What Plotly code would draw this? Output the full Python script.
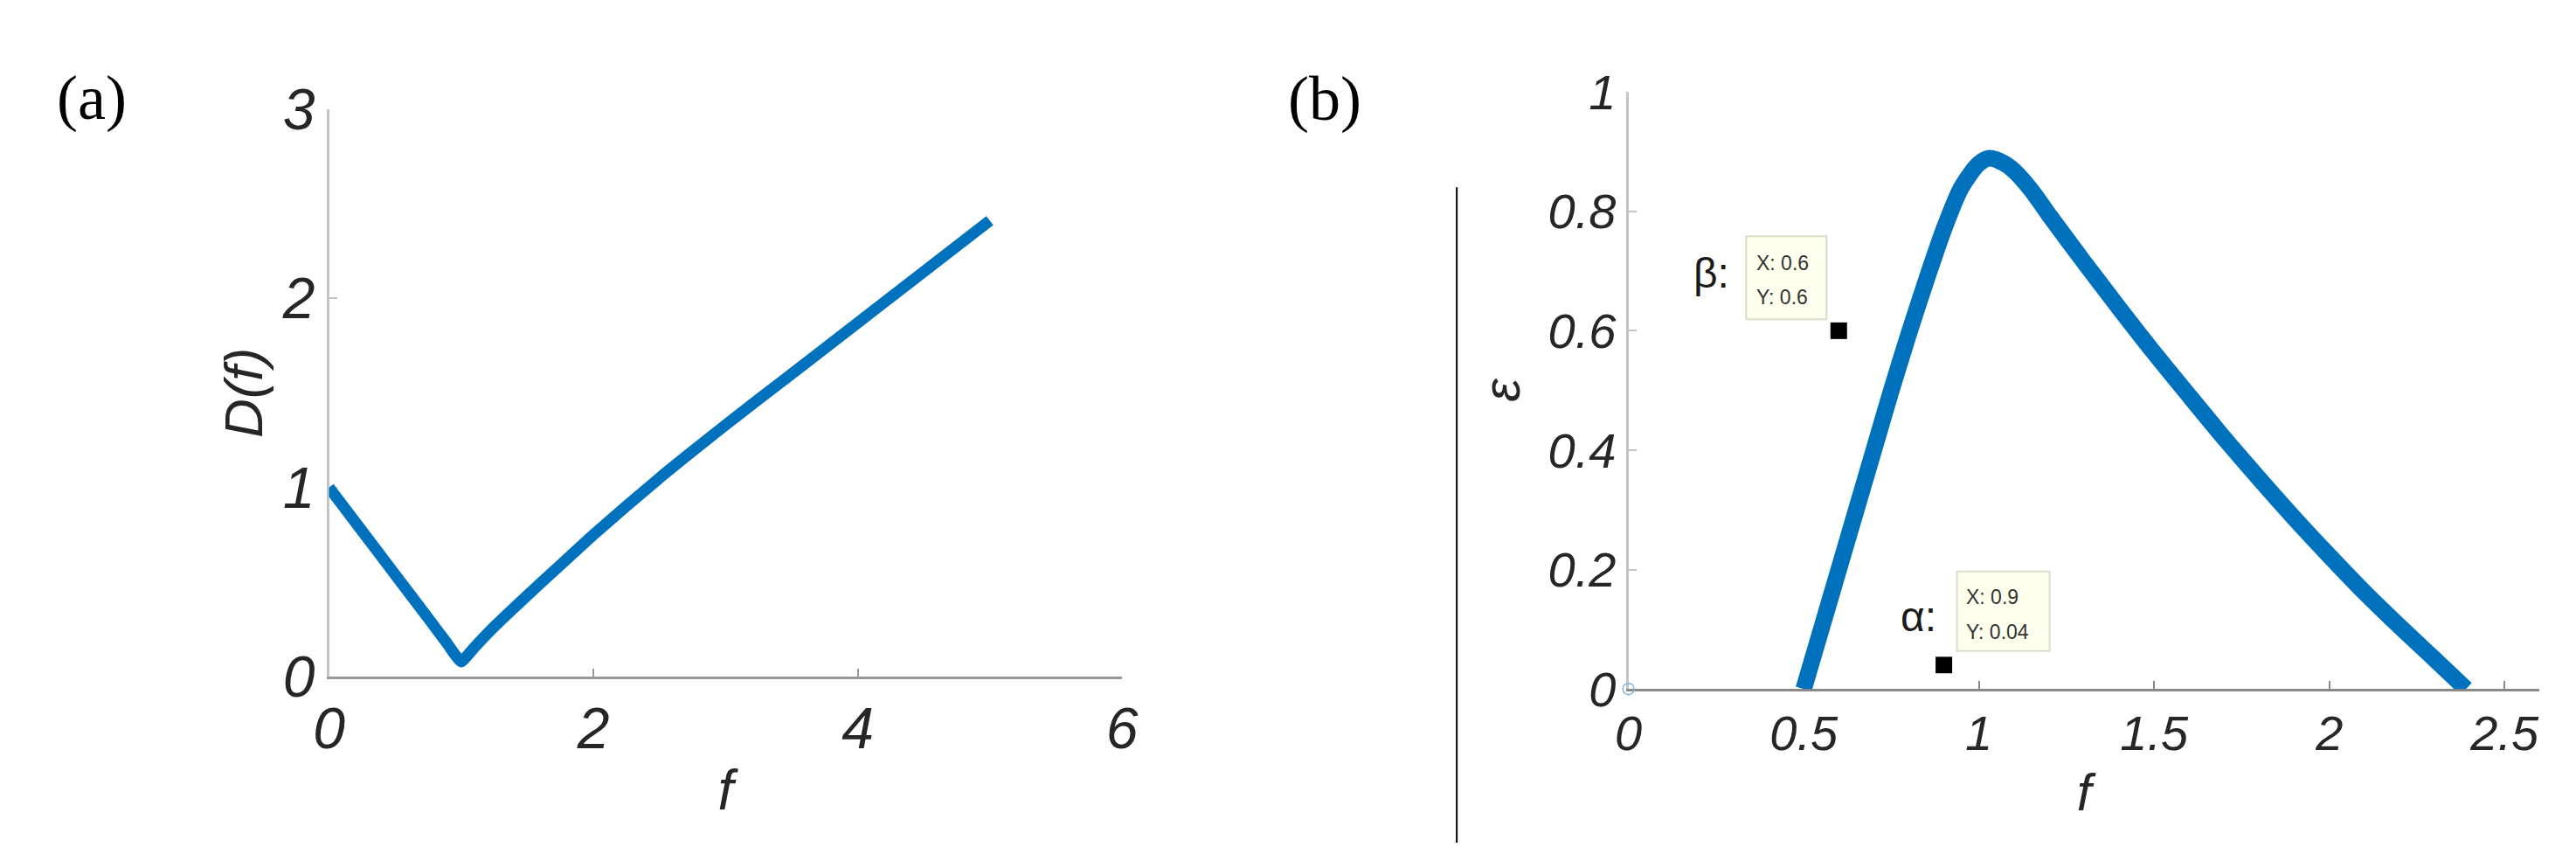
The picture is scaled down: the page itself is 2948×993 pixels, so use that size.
import plotly.graph_objects as go

# ---------------- data ----------------
# panel (a): D(f)
f_a = [0.0, 0.25, 0.5, 0.75, 0.9, 0.95, 1.0, 1.05, 1.1, 1.25, 1.5, 1.75, 2.0, 2.5, 3.0, 3.5, 4.0, 4.5, 5.0]
D_a = [1.0, 0.77, 0.54, 0.31, 0.17, 0.12, 0.08, 0.115, 0.155, 0.265, 0.43, 0.59, 0.75, 1.05, 1.33, 1.6, 1.87, 2.14, 2.41]

# panel (b): epsilon(f)
f_b = [0.5, 0.55, 0.6, 0.65, 0.7, 0.75, 0.8, 0.85, 0.9, 0.95, 1.0, 1.03, 1.07, 1.1, 1.15, 1.2,
       1.3, 1.4, 1.5, 1.6, 1.7, 1.8, 1.9, 2.0, 2.1, 2.2, 2.3, 2.39]
eps_b = [0.0, 0.1, 0.2, 0.3, 0.4, 0.5, 0.595, 0.685, 0.77, 0.84, 0.88, 0.889, 0.881, 0.868, 0.835, 0.794,
         0.715, 0.638, 0.563, 0.491, 0.42, 0.352, 0.286, 0.223, 0.162, 0.105, 0.05, 0.0]

# data tips
tip_names = ["β:", "α:"]
tip_x = [0.6, 0.9]
tip_y = [0.6, 0.04]
tip_xlabel = ["X: 0.6", "X: 0.9"]
tip_ylabel = ["Y: 0.6", "Y: 0.04"]

origin_x = [0]
origin_y = [0]

xticks_a = [0, 2, 4, 6]
yticks_a = [0, 1, 2, 3]
xticks_b = [0, 0.5, 1, 1.5, 2, 2.5]
yticks_b = [0, 0.2, 0.4, 0.6, 0.8, 1]

# ---------------- style ----------------
W, H = 2948, 993
BLUE = "#0072BD"
TXT = "#262626"
FONT = "Liberation Sans"

fig = go.Figure()

fig.add_trace(go.Scatter(x=f_a, y=D_a, mode="lines", xaxis="x", yaxis="y",
                         line=dict(color=BLUE, width=13, shape="spline", smoothing=0.5),
                         showlegend=False, hoverinfo="skip"))
fig.add_trace(go.Scatter(x=f_b, y=eps_b, mode="lines", xaxis="x2", yaxis="y2",
                         line=dict(color=BLUE, width=19, shape="spline", smoothing=0.8),
                         showlegend=False, hoverinfo="skip"))
fig.add_trace(go.Scatter(x=origin_x, y=origin_y, mode="markers", xaxis="x2", yaxis="y2",
                         marker=dict(symbol="circle-open", size=13, color="#7fb3dd", line=dict(width=1.5)),
                         showlegend=False, hoverinfo="skip", cliponaxis=False))
fig.add_trace(go.Scatter(x=tip_x, y=tip_y, mode="markers", xaxis="x2", yaxis="y2",
                         marker=dict(symbol="square", size=19, color="black"),
                         showlegend=False, hoverinfo="skip"))

tickfont_a = dict(family=FONT, size=66, color=TXT, style="italic")
tickfont_b = dict(family=FONT, size=56, color=TXT, style="italic")

def ax(domain, rng, tickvals, linecolor, tickfont, title, tfont, standoff, anchor, labelstand):
    return dict(domain=domain, range=rng, tickvals=tickvals, ticks="inside", ticklen=9, tickwidth=2,
                tickcolor=linecolor, showline=True, linecolor=linecolor, linewidth=3,
                showgrid=False, zeroline=False, tickfont=tickfont, anchor=anchor,
                layer="below traces", ticklabelstandoff=labelstand,
                title=dict(text=title, font=tfont, standoff=standoff))

fig.update_layout(
    width=W, height=H, margin=dict(l=0, r=0, t=0, b=0),
    paper_bgcolor="white", plot_bgcolor="white",
    xaxis=ax([355 / W, 1274 / W], [0, 6], xticks_a, "#9a9a9a", tickfont_a, "f",
             dict(family=FONT, size=64, color=TXT, style="italic"), 12, "y", 0),
    yaxis=ax([1 - 788 / H, 1 - 86 / H], [0, 3], yticks_a, "#c4c4c4", tickfont_a, "D(f)",
             dict(family=FONT, size=62, color=TXT, style="italic"), 2, "x", 0),
    xaxis2=ax([1861 / W, 2917 / W], [0, 2.6], xticks_b, "#8a8a8a", tickfont_b, "f",
              dict(family=FONT, size=60, color=TXT, style="italic"), 16, "y2", 0),
    yaxis2=ax([1 - 803 / H, 1 - 65 / H], [0, 1], yticks_b, "#c4c4c4", tickfont_b, "ε",
              dict(family=FONT, size=60, color=TXT, style="italic"), 13, "x2", 0),
)

# separator line
fig.add_shape(type="line", xref="paper", yref="paper", x0=1662 / W, x1=1662 / W,
              y0=0, y1=1 - 183 / H, line=dict(color="black", width=2))

# panel letters
fig.add_annotation(text="(a)", xref="paper", yref="paper", x=80 / W, y=1 - 72 / H,
                   showarrow=False, font=dict(family="Liberation Serif", size=72, color="black"),
                   xanchor="center", yanchor="middle")
fig.add_annotation(text="(b)", xref="paper", yref="paper", x=1509 / W, y=1 - 74 / H,
                   showarrow=False, font=dict(family="Liberation Serif", size=72, color="black"),
                   xanchor="center", yanchor="middle")

# data tip boxes (pixel offsets relative to the data point)
box_off = [(-106, -14, 13, 108), (15, 121, 16, 107)]
text_off = [(-96, 77, 38), (23, 78, 38)]
name_off = [(-123, 66), (-7, 55)]
for i in range(len(tip_x)):
    x0, x1, y0, y1 = box_off[i]
    fig.add_shape(type="rect", xref="x2", yref="y2", xsizemode="pixel", ysizemode="pixel",
                  xanchor=tip_x[i], yanchor=tip_y[i], x0=x0, x1=x1, y0=y0, y1=y1,
                  fillcolor="#ffffee", line=dict(color="#dcdccc", width=2))
    tx, ty1, ty2 = text_off[i]
    for txt, ty in ((tip_xlabel[i], ty1), (tip_ylabel[i], ty2)):
        fig.add_annotation(text=txt, xref="x2", yref="y2", x=tip_x[i], y=tip_y[i],
                           xshift=tx, yshift=ty, showarrow=False, xanchor="left", yanchor="middle",
                           font=dict(family=FONT, size=23, color="#333333"))
    nx, ny = name_off[i]
    fig.add_annotation(text=tip_names[i], xref="x2", yref="y2", x=tip_x[i], y=tip_y[i],
                       xshift=nx, yshift=ny, showarrow=False, xanchor="right", yanchor="middle",
                       font=dict(family=FONT, size=48, color="#1a1a1a"))

fig.write_html("out.html")
